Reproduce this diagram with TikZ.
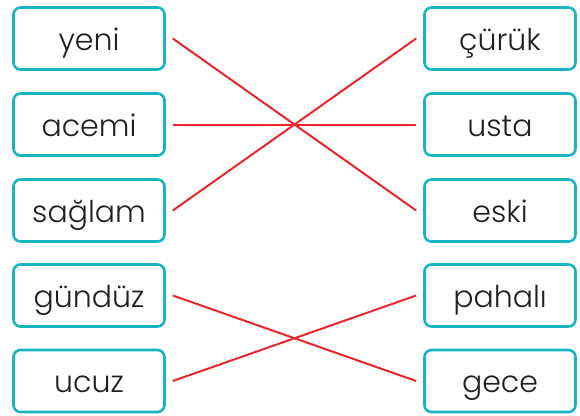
\documentclass[tikz,border=0pt]{standalone}
\usepackage{fontspec}
\setmainfont{Poppins}[UprightFont=* Light]
\definecolor{teal1}{HTML}{17B4C4}
\definecolor{red1}{HTML}{E8262C}
\definecolor{txt}{HTML}{231F20}
\begin{document}
\begin{tikzpicture}[x=1pt,y=-1pt,
  wbox/.style={draw=teal1,line width=2.6pt,rounded corners=7pt,minimum width=151pt,minimum height=62pt,inner sep=0pt,text height=23pt,text depth=0pt,text=txt,font=\fontsize{30}{33}\selectfont},
  match/.style={draw=red1,line width=2pt}]
\useasboundingbox (0,0) rectangle (580,415);
\node[wbox] (l1) at (89,38.5) {yeni};
\node[wbox] (l2) at (89,124.5) {acemi};
\node[wbox] (l3) at (89,210.5) {sağlam};
\node[wbox] (l4) at (89,295.5) {gündüz};
\node[wbox] (l5) at (89,381) {ucuz};
\node[wbox] (r1) at (500,38.5) {çürük};
\node[wbox] (r2) at (500,124.5) {usta};
\node[wbox] (r3) at (500,210.5) {eski};
\node[wbox] (r4) at (500,295.5) {pahalı};
\node[wbox] (r5) at (500,381) {gece};
\draw[match] ([xshift=7pt]l1.east) -- ([xshift=-7pt]r3.west);
\draw[match] ([xshift=7pt]l2.east) -- ([xshift=-7pt]r2.west);
\draw[match] ([xshift=7pt]l3.east) -- ([xshift=-7pt]r1.west);
\draw[match] ([xshift=7pt]l4.east) -- ([xshift=-7pt]r5.west);
\draw[match] ([xshift=7pt]l5.east) -- ([xshift=-7pt]r4.west);
\end{tikzpicture}
\end{document}
